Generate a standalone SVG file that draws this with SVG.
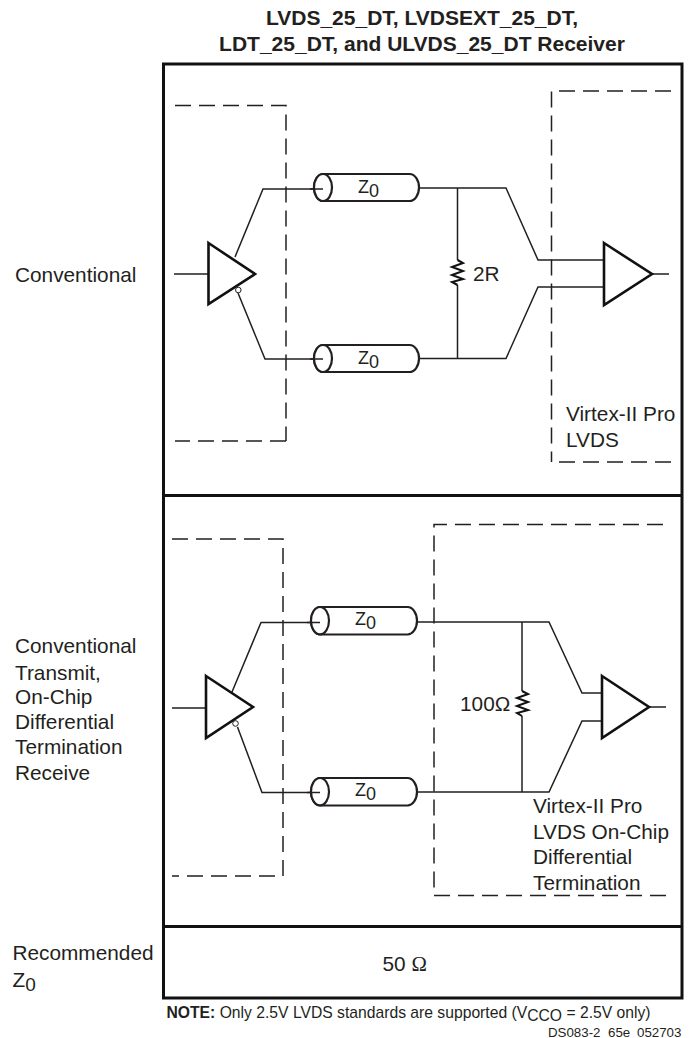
<svg xmlns="http://www.w3.org/2000/svg" width="693" height="1038" viewBox="0 0 693 1038">
<style>
text{font-family:"Liberation Sans",Arial,sans-serif;font-size:20.800px;fill:#231f20}
.b{font-weight:bold}
.z{font-size:18px}
.f{fill:none;stroke:#111;stroke-width:3}
.w{fill:none;stroke:#231f20;stroke-width:1.5}
.d{fill:none;stroke:#231f20;stroke-width:1.5;stroke-dasharray:16 8}
.t{fill:#fff;stroke:#111;stroke-width:2.6}
.c{fill:#fff;stroke:#231f20;stroke-width:2.2}
.r{fill:none;stroke:#111;stroke-width:2}
.o{fill:#fff;stroke:#231f20;stroke-width:1}
</style>
<rect width="693" height="1038" fill="#fff"/>
<g id="frame">
<path class="f" d="M163.500 64H682V998H163.500Z"/>
<path class="f" d="M163 495.500H682M163 926.500H682"/>
</g>
<g id="connectors">
<path class="w" d="M174 274H208M235 257L263 189H323M238 293L265 359H323M419 188H506L538 260H604M419 358.500H506L538 287H604M652 274H669M457.500 188V260M457.500 285V358.500"/>
<path class="w" d="M172 708H206M232 692L261 622.500H320M237.500 727L262 792.500H320M417 622H549L582 693H602M417 792H549L582 721H602M649 707H666M522 622V691M522 716V792"/>
</g>
<g id="boundaries">
<path class="d" d="M175 105.500H286V441"/>
<path class="d" d="M286 441H175"/>
<path class="d" d="M671 91H551.500V462"/>
<path class="d" d="M559 462H671"/>
<path class="d" d="M172 539H283V876"/>
<path class="d" d="M275 876H172"/>
<path class="d" d="M663 524.500H434V895.500"/>
<path class="d" d="M434 895.500H666"/>
</g>
<g id="driver-1"><path class="t" d="M208.500 243L255 274L208.500 304Z"/><circle class="o" cx="238.300" cy="290" r="2.800"/></g>
<g id="receiver-1"><path class="t" d="M604 243L652 274L604 305Z"/></g>
<g id="line-1a"><rect class="c" x="314" y="174" width="105" height="27" rx="9.500" ry="13.500"/><ellipse class="c" cx="323" cy="187.500" rx="9" ry="13.500"/><path class="w" d="M310 189H323"/><text class="z" x="358" y="193">Z<tspan dy="4">0</tspan></text></g>
<g id="line-1b"><rect class="c" x="314" y="345" width="105" height="27" rx="9.500" ry="13.500"/><ellipse class="c" cx="323" cy="358.500" rx="9" ry="13.500"/><path class="w" d="M310 359H323"/><text class="z" x="358" y="364">Z<tspan dy="4">0</tspan></text></g>
<g id="resistor-1"><path class="r" d="M457.500 260L463 263L452 267L463 271L452 275L463 279L452 282L457.500 285"/><text x="473" y="281">2R</text></g>
<g id="driver-2"><path class="t" d="M206 676L253 707L206 738Z"/><circle class="o" cx="235.500" cy="723.500" r="2.800"/></g>
<g id="receiver-2"><path class="t" d="M602 676L649 707L602 738Z"/></g>
<g id="line-2a"><rect class="c" x="311" y="607" width="106" height="27.500" rx="9.500" ry="13.700"/><ellipse class="c" cx="320" cy="620.700" rx="9" ry="13.700"/><path class="w" d="M307 622.500H320"/><text class="z" x="355" y="625">Z<tspan dy="4">0</tspan></text></g>
<g id="line-2b"><rect class="c" x="311" y="778" width="106" height="27.500" rx="9.500" ry="13.700"/><ellipse class="c" cx="320" cy="791.700" rx="9" ry="13.700"/><path class="w" d="M307 792.500H320"/><text class="z" x="355" y="796">Z<tspan dy="4">0</tspan></text></g>
<g id="resistor-2"><path class="r" d="M522 691L528 694L517 698L528 702L517 706L528 710L517 713L522 716"/><text x="460" y="711">100Ω</text></g>
<g id="labels">
<text x="566" y="420.500">Virtex-II Pro</text>
<text x="566" y="446.500">LVDS</text>
<text x="533" y="813">Virtex-II Pro</text>
<text x="533" y="839">LVDS On-Chip</text>
<text x="533" y="864">Differential</text>
<text x="533" y="890">Termination</text>
<text x="15" y="282">Conventional</text>
<text x="15" y="653">Conventional</text>
<text x="15" y="680">Transmit,</text>
<text x="15" y="704">On-Chip</text>
<text x="15" y="729">Differential</text>
<text x="15" y="754">Termination</text>
<text x="15" y="780">Receive</text>
<text x="12.500" y="960">Recommended</text>
<text x="12.500" y="987">Z<tspan dy="4" style="font-size:19px">0</tspan></text>
<text x="422" y="25" class="b" text-anchor="middle" style="font-size:21px">LVDS_25_DT, LVDSEXT_25_DT,</text>
<text x="422" y="51" class="b" text-anchor="middle" style="font-size:21px">LDT_25_DT, and ULVDS_25_DT Receiver</text>
<text x="382.500" y="971">50 <tspan style="font-family:'Liberation Serif',serif">Ω</tspan></text>
<text x="166.500" y="1018" style="font-size:15.700px"><tspan class="b">NOTE:</tspan> Only 2.5V LVDS standards are supported (V<tspan dy="3">CCO</tspan><tspan dy="-3"> = 2.5V only)</tspan></text>
<text y="1036.500" style="font-size:13.300px"><tspan x="548">DS083-2</tspan><tspan x="608">65e</tspan><tspan x="637">052703</tspan></text>
</g>
</svg>
